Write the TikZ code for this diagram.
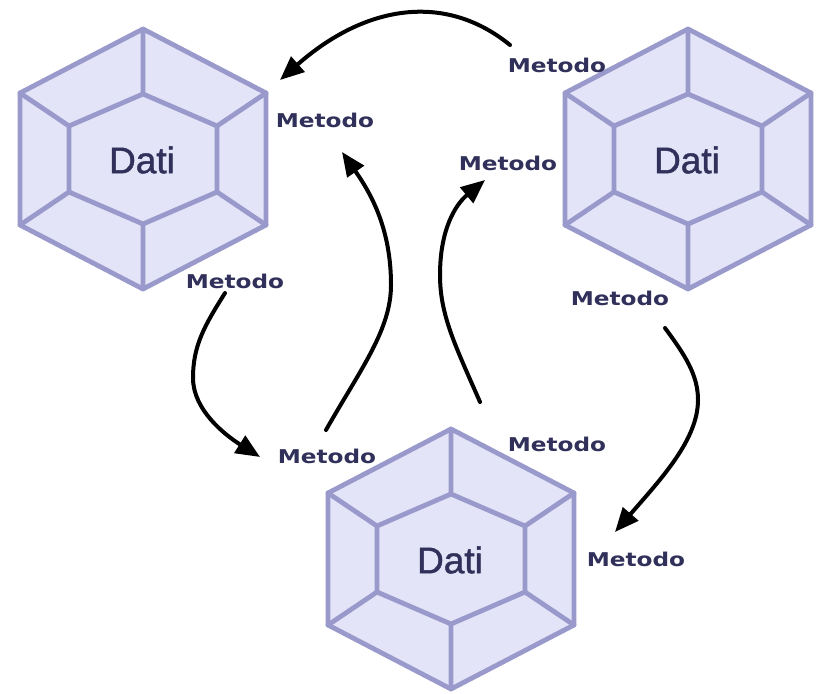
\documentclass[tikz,border=0pt]{standalone}
\usepackage{fontspec}
\usetikzlibrary{arrows.meta}
\newfontfamily\datifont[FakeBold=1.2]{Liberation Sans}
\newfontfamily\metfont[FakeStretch=1.22]{DejaVu Sans}
\definecolor{hexfill}{HTML}{E4E4F8}
\definecolor{hexline}{HTML}{9999CC}
\definecolor{txtnavy}{HTML}{30305A}
\begin{document}
\begin{tikzpicture}[x=1pt,y=-1pt,
  hexedge/.style={draw=hexline,line width=4.8pt,line join=round,line cap=round},
  dati/.style={font=\datifont\fontsize{37}{40}\selectfont,text=txtnavy,inner sep=0pt},
  metodo/.style={font=\metfont\bfseries\fontsize{19}{22}\selectfont,text=txtnavy,inner sep=0pt},
  flow/.style={draw=black,line width=4pt,line cap=round,-{Triangle[length=24pt,width=20pt]}},
  hexpic/.pic={
    \path[hexedge,fill=hexfill] (0,-130) -- (123,-66) -- (123,66) -- (0,130) -- (-123,66) -- (-123,-66) -- cycle;
    \path[hexedge] (0,-65) -- (74,-33) -- (74,33) -- (0,65) -- (-74,33) -- (-74,-33) -- cycle;
    \path[hexedge] (0,-130) -- (0,-65) (123,-66) -- (74,-33) (123,66) -- (74,33)
                   (0,130) -- (0,65) (-123,66) -- (-74,33) (-123,-66) -- (-74,-33);
    \node[dati] (-dati) at (-1,1) {Dati};
  }]
\useasboundingbox (0,0) rectangle (821,693);
\fill[white] (0,0) rectangle (821,693);

\pic (h1) at (143,159) {hexpic};
\pic (h2) at (688,159) {hexpic};
\pic (h3) at (451,559) {hexpic};

\node[metodo] (m1) at (325,120) {Metodo};
\node[metodo] (m2) at (557,65) {Metodo};
\node[metodo] (m3) at (508,163) {Metodo};
\node[metodo] (m4) at (235,281) {Metodo};
\node[metodo] (m5) at (327,456) {Metodo};
\node[metodo] (m6) at (557,444) {Metodo};
\node[metodo] (m7) at (620,298) {Metodo};
\node[metodo] (m8) at (636,559) {Metodo};

\coordinate (as) at (510,45);  \coordinate (ae) at (280,80);
\coordinate (bs) at (326,430); \coordinate (be) at (342,152);
\coordinate (cs) at (480,402); \coordinate (ce) at (485,180);
\coordinate (ds) at (225,293); \coordinate (de) at (260,457);
\coordinate (es) at (665,328); \coordinate (ee) at (615,532);

\draw[flow] (as) .. controls (445,-8) and (365,5) .. (ae);
\draw[flow] (bs) .. controls (360,370) and (391,330) .. (391,285) .. controls (391,230) and (372,195) .. (be);
\draw[flow] (cs) .. controls (455,345) and (440,315) .. (440,275) .. controls (440,230) and (455,205) .. (ce);
\draw[flow] (ds) .. controls (205,325) and (193,345) .. (193,378) .. controls (193,410) and (225,435) .. (de);
\draw[flow] (es) .. controls (685,355) and (698,375) .. (698,400) .. controls (698,440) and (660,480) .. (ee);
\end{tikzpicture}
\end{document}
